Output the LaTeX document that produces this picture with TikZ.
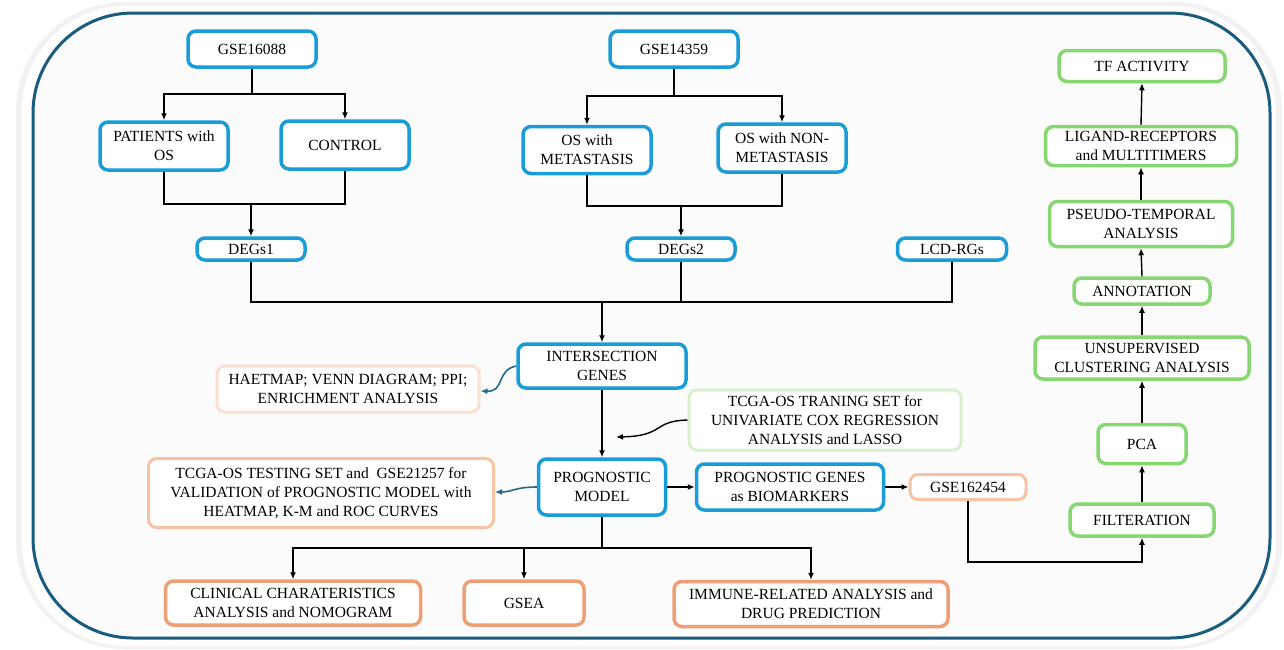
\documentclass[tikz,border=0pt]{standalone}
\usepackage{fontspec}
\setmainfont{Liberation Serif}
\usetikzlibrary{arrows.meta}
\definecolor{frameC}{HTML}{1A5C7E}
\definecolor{blueC}{HTML}{1A9CD8}
\definecolor{greenC}{HTML}{86D672}
\definecolor{lgreenC}{HTML}{D8F0D0}
\definecolor{lpeachC}{HTML}{FBE0D2}
\definecolor{peachC}{HTML}{F6C3A5}
\definecolor{orangeC}{HTML}{EE9F76}
\definecolor{tealC}{HTML}{22698C}
\begin{document}
\begin{tikzpicture}[x=1pt,y=-1pt,
  every node/.style={font=\fontsize{15.5}{19}\selectfont, align=center, inner sep=2pt, fill=white, rounded corners=8pt, line width=3.5pt},
  bbox/.style={draw=blueC},
  gbox/.style={draw=greenC},
  obox/.style={draw=orangeC},
  pbox/.style={draw=peachC, line width=3pt},
  lpbox/.style={draw=lpeachC, line width=3pt},
  lgbox/.style={draw=lgreenC, line width=3pt},
  sz/.style 2 args={minimum width=#1, minimum height=#2},
  arr/.style={line width=1.4pt, -{Latex[length=7pt,width=6pt]}},
  ln/.style={line width=1.4pt},
  carr/.style={line width=1.6pt, draw=tealC, -{Latex[length=7pt,width=6pt]}},
]
\useasboundingbox (0,0) rectangle (1284,649);
% shadow and frame
\fill[gray!10, rounded corners=108pt] (16,2) rectangle (1282,649);
\fill[white, rounded corners=104pt] (22,6) rectangle (1276,646);
\draw[frameC, line width=3pt, fill=black!1.5, rounded corners=100pt] (33,13) rectangle (1270,638);

% left group
\node[bbox, sz={128pt}{36pt}] (gse1) at (252,49) {GSE16088};
\node[bbox, sz={128pt}{48pt}] (pat) at (164,146) {PATIENTS with\\OS};
\node[bbox, sz={128pt}{48pt}] (ctrl) at (345,145) {CONTROL};
\node[bbox, sz={108pt}{22pt}, inner sep=1pt] (degs1) at (251,249) {DEGs1};
% middle group
\node[bbox, sz={128pt}{36pt}] (gse2) at (674,49) {GSE14359};
\node[bbox, sz={128pt}{47pt}] (met) at (587,150) {OS with\\METASTASIS};
\node[bbox, sz={128pt}{48pt}] (nmet) at (782,148) {OS with NON-\\METASTASIS};
\node[bbox, sz={108pt}{22pt}, inner sep=1pt] (degs2) at (681,249) {DEGs2};
\node[bbox, sz={109pt}{22pt}, inner sep=1pt] (lcd) at (952,249) {LCD-RGs};
% centre
\node[bbox, sz={168pt}{44pt}] (inter) at (602,366) {INTERSECTION\\GENES};
\node[lpbox, sz={262pt}{46pt}] (haet) at (348,389) {HAETMAP; VENN DIAGRAM; PPI;\\ENRICHMENT ANALYSIS};
\node[lgbox, sz={272pt}{60pt}] (train) at (825,420) {TCGA-OS TRANING SET for\\UNIVARIATE COX REGRESSION\\ANALYSIS and LASSO};
\node[bbox, sz={127pt}{56pt}] (prog) at (602,487) {PROGNOSTIC\\MODEL};
\node[pbox, sz={345pt}{69pt}] (test) at (321,493) {TCGA-OS TESTING SET and~~GSE21257 for\\VALIDATION of PROGNOSTIC MODEL with\\HEATMAP, K-M and ROC CURVES};
\node[bbox, sz={187pt}{46pt}] (biom) at (790,487) {PROGNOSTIC GENES\\as BIOMARKERS};
\node[pbox, sz={116pt}{25pt}, inner sep=1pt] (g162) at (968,487) {GSE162454};
% bottom
\node[obox, sz={255pt}{44pt}] (clin) at (293,603) {CLINICAL CHARATERISTICS\\ANALYSIS and NOMOGRAM};
\node[obox, sz={120pt}{44pt}] (gsea) at (524,603) {GSEA};
\node[obox, sz={274pt}{45pt}] (imm) at (811,604) {IMMUNE-RELATED ANALYSIS and\\DRUG PREDICTION};
% right column
\node[gbox, sz={166pt}{31pt}] (tf) at (1142,66) {TF ACTIVITY};
\node[gbox, sz={191pt}{39pt}] (lig) at (1141,146) {LIGAND-RECEPTORS\\and MULTITIMERS};
\node[gbox, sz={183pt}{45pt}] (pseudo) at (1141,224) {PSEUDO-TEMPORAL\\ANALYSIS};
\node[gbox, sz={136pt}{26pt}, inner sep=1pt] (anno) at (1142,291) {ANNOTATION};
\node[gbox, sz={214pt}{42pt}] (unsup) at (1142,358) {UNSUPERVISED\\CLUSTERING ANALYSIS};
\node[gbox, sz={88pt}{39pt}] (pca) at (1142,444) {PCA};
\node[gbox, sz={144pt}{32pt}] (filt) at (1142,520) {FILTERATION};

% connectors left
\draw[ln] (gse1.south) -- (gse1.south |- 0,94);
\draw[arr] (gse1.south |- 0,94) -| (pat.north);
\draw[arr] (gse1.south |- 0,94) -| (ctrl.north);
\draw[ln] (pat.south) |- (degs1.north |- 0,204);
\draw[ln] (ctrl.south) |- (degs1.north |- 0,204);
\draw[arr] (degs1.north |- 0,204) -- (degs1.north);
% middle
\draw[ln] (gse2.south) -- (gse2.south |- 0,96);
\draw[arr] (gse2.south |- 0,96) -| (met.north);
\draw[arr] (gse2.south |- 0,96) -| (nmet.north);
\draw[ln] (met.south) |- (degs2.north |- 0,206);
\draw[ln] (nmet.south) |- (degs2.north |- 0,206);
\draw[arr] (degs2.north |- 0,206) -- (degs2.north);
% to intersection
\draw[ln] (degs1.south) |- (inter.north |- 0,302);
\draw[ln] (degs2.south) |- (inter.north |- 0,302);
\draw[ln] (lcd.south) |- (inter.north |- 0,302);
\draw[arr] (inter.north |- 0,302) -- (inter.north);
\draw[arr] (inter.south) -- (prog.north);
% curved
\draw[carr] (inter.west) .. controls (496,370) and (505,392) .. (haet.east |- 0,391);
\coordinate (tip) at (616,437);
\draw[arr] (train.west) .. controls (652,421) and (665,436) .. (tip);
\draw[carr] (prog.west) .. controls (515,487) and (512,492) .. (test.east |- 0,492);
% prognostic
\draw[arr] (prog.east) -- (biom.west);
\draw[arr] (biom.east) -- (g162.west);
\draw[ln] (prog.south) -- (prog.south |- 0,548);
\draw[arr] (prog.south |- 0,548) -| (clin.north);
\draw[arr] (prog.south |- 0,548) -| (gsea.north);
\draw[arr] (prog.south |- 0,548) -| (imm.north);
\draw[arr] (g162.south) |- (filt.south |- 0,562) -- (filt.south);
% right column
\draw[arr] (filt.north) -- (pca.south);
\draw[arr] (pca.north) -- (unsup.south);
\draw[arr] (unsup.north) -- (anno.south);
\draw[arr] (anno.north) -- (pseudo.south);
\draw[arr] (pseudo.north) -- (lig.south);
\draw[arr] (lig.north) -- (tf.south);
\end{tikzpicture}
\end{document}
